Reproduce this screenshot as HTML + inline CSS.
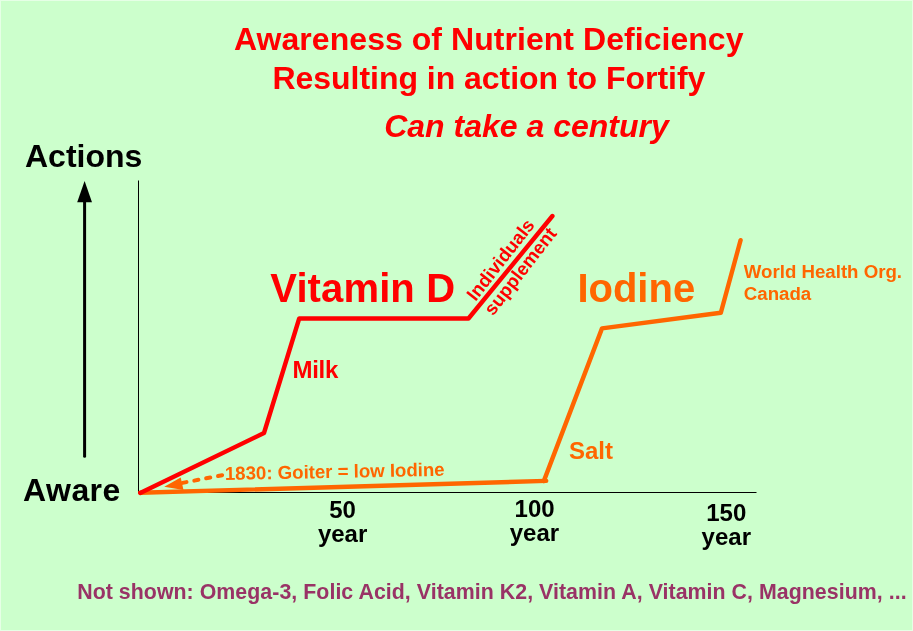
<!DOCTYPE html>
<html>
<head>
<meta charset="utf-8">
<title>Awareness of Nutrient Deficiency</title>
<style>
  html, body { margin: 0; padding: 0; }
  body { width: 913px; height: 631px; overflow: hidden; background: #ccffcc; }
  svg { display: block; position: absolute; left: 0; top: 0; }
  #fg { will-change: transform; }
  text { font-family: "Liberation Sans", sans-serif; font-weight: bold; }
  .red { fill: #ff0000; }
  .org { fill: #ff6600; }
  .blk { fill: #000000; }
  .pur { fill: #993366; }
</style>
</head>
<body>
<svg width="913" height="631" viewBox="0 0 913 631">
  <!-- background + light 1px border -->
  <rect x="0" y="0" width="913" height="631" fill="#e6ffe6"/>
  <rect x="1" y="1" width="911" height="629" fill="#ccffcc"/>
</svg>
<svg id="fg" width="913" height="631" viewBox="0 0 913 631">

  <!-- axes -->
  <line x1="138.5" y1="180.5" x2="138.5" y2="492.5" stroke="#000" stroke-width="1"/>
  <line x1="138" y1="492.5" x2="756.5" y2="492.5" stroke="#000" stroke-width="1"/>

  <!-- Actions arrow -->
  <line x1="84.6" y1="200" x2="84.6" y2="456.2" stroke="#000" stroke-width="3" stroke-linecap="round"/>
  <polygon points="84.6,181 77.2,202.3 92,202.3" fill="#000"/>

  <!-- Iodine (orange) line -->
  <g fill="none" stroke="#ff6600" stroke-width="4.4" stroke-linejoin="round" stroke-linecap="round">
    <polyline points="140.2,492.8 546.2,480.9"/>
    <polyline points="543.8,481.1 602,328.4 720.8,312.8 740.6,240.2"/>
  </g>

  <!-- Vitamin D (red) line -->
  <polyline points="140.2,492.9 264,433 299.2,318.5 468.5,318.5 552.4,216"
            fill="none" stroke="#ff0000" stroke-width="4.4" stroke-linejoin="round" stroke-linecap="round"/>


  <!-- dashed goiter arrow -->
  <line x1="182.4" y1="482.9" x2="225" y2="474.7" stroke="#ff6600" stroke-width="4" stroke-dasharray="4.2 7.9" stroke-linecap="round"/>
  <polygon points="164.2,486.8 180.7,477.4 183.5,490" fill="#ff6600"/>

  <!-- titles -->
  <text class="red" x="234" y="50.2" font-size="32" textLength="509.5" lengthAdjust="spacing">Awareness of Nutrient Deficiency</text>
  <text class="red" x="272.5" y="88.8" font-size="32" textLength="432.8" lengthAdjust="spacing">Resulting in action to Fortify</text>
  <text class="red" x="384.2" y="137.1" font-size="32" font-style="italic">Can take a century</text>

  <!-- axis titles -->
  <text class="blk" x="25" y="166.5" font-size="32">Actions</text>
  <text class="blk" x="23.1" y="501.4" font-size="32" textLength="97.2" lengthAdjust="spacing">Aware</text>

  <!-- series labels -->
  <text class="red" x="270.3" y="301.9" font-size="40" textLength="184.75" lengthAdjust="spacing">Vitamin D</text>
  <text class="org" x="577.4" y="301.6" font-size="40">Iodine</text>
  <text class="red" x="292.4" y="377.6" font-size="24" textLength="46" lengthAdjust="spacing">Milk</text>
  <text class="org" x="569" y="458.6" font-size="24">Salt</text>
  <text class="org" x="743.8" y="277.8" font-size="18.67">World Health Org.</text>
  <text class="org" x="743.8" y="300.2" font-size="18.67">Canada</text>

  <!-- rotated labels -->
  <text class="red" font-size="18.67" transform="translate(475.5,302.0) rotate(-52)">Individuals</text>
  <text class="red" font-size="18.67" transform="translate(493.0,316.4) rotate(-52)">supplement</text>
  <text class="org" font-size="18.67" transform="translate(225,480.0) rotate(-1.1)" textLength="219.8" lengthAdjust="spacing">1830: Goiter = low Iodine</text>

  <!-- x axis tick labels -->
  <g class="blk" font-size="24" text-anchor="middle">
    <text x="342.6" y="517.6">50</text>
    <text x="342.6" y="541.9">year</text>
    <text x="534.6" y="516.9">100</text>
    <text x="534.4" y="540.9">year</text>
    <text x="726.3" y="521.1">150</text>
    <text x="726.3" y="544.7">year</text>
  </g>

  <!-- footnote -->
  <text class="pur" x="77.2" y="599" font-size="21.33" textLength="829.4" lengthAdjust="spacing">Not shown: Omega-3, Folic Acid, Vitamin K2, Vitamin A, Vitamin C, Magnesium, ...</text>
</svg>
</body>
</html>
